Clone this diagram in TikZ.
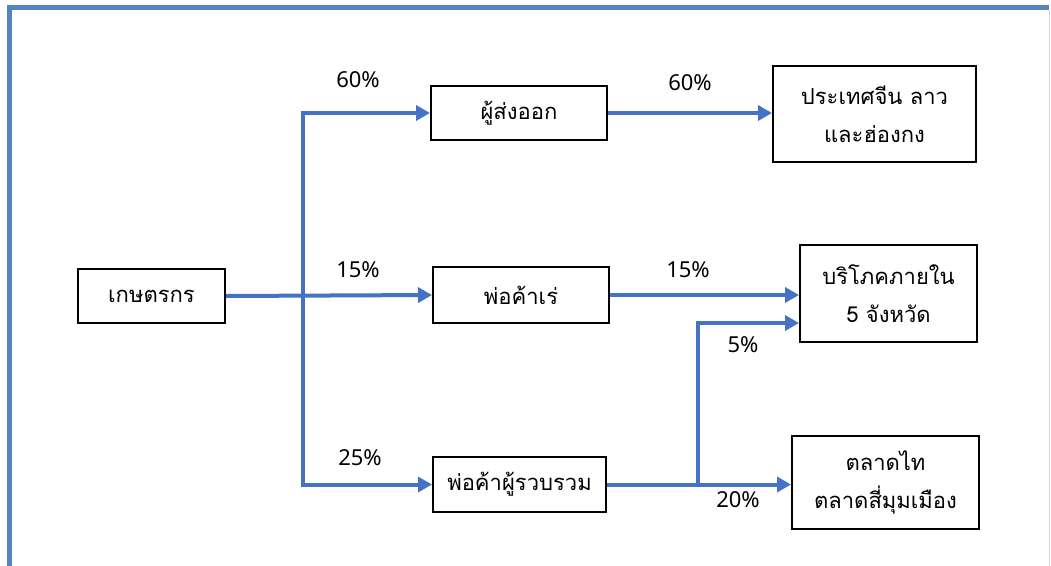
\documentclass[tikz,border=0pt]{standalone}
\usepackage{fontspec}
\setmainfont{Noto Sans}
\newfontfamily\thaifont[Script=Thai]{Loma}
\usetikzlibrary{arrows.meta,calc}
\definecolor{flowblue}{HTML}{4472C4}
\definecolor{frameblue}{HTML}{5584C2}
\definecolor{frameedge}{HTML}{C9D6E8}
\tikzset{
  box/.style={draw=black,line width=2pt,inner sep=0pt,align=center,
    font=\thaifont\fontsize{22}{38}\selectfont},
  flow/.style={draw=flowblue,line width=4pt,
    -{Triangle[length=14pt,width=15pt]}},
  trunk/.style={draw=flowblue,line width=4pt},
  pct/.style={font=\fontsize{22}{26}\selectfont,inner sep=0pt}
}
\begin{document}
\begin{tikzpicture}[x=1pt,y=-1pt]
\useasboundingbox (0,0) rectangle (1051,565);
% outer frame, open at the bottom
\draw[frameblue,line width=5pt] (9.5,568) -- (9.5,7.5) -- (1049,7.5);
\draw[frameedge,line width=1.5pt] (1049.5,10) -- (1049.5,568);

% boxes
\node[box,minimum width=147pt,minimum height=54pt] (farmer) at (151.5,296) {เกษตรกร};
\node[box,minimum width=176pt,minimum height=54pt] (exporter) at (519,113) {ผู้ส่งออก};
\node[box,minimum width=176pt,minimum height=56pt] (peddler) at (521,295) {พ่อค้าเร่};
\node[box,minimum width=173pt,minimum height=55pt] (collector) at (519.5,484.5) {พ่อค้าผู้รวบรวม};
\node[box,minimum width=203pt,minimum height=96pt] (china) at (874.5,114) {ประเทศจีน ลาว\\และฮ่องกง};
\node[box,minimum width=177pt,minimum height=97pt] (domestic) at (888.5,293.5) {บริโภคภายใน\\5 จังหวัด};
\node[box,minimum width=187pt,minimum height=93pt] (market) at (885.5,482.5) {ตลาดไท\\ตลาดสี่มุมเมือง};

% junction points
\coordinate (jt) at (303,113);
\coordinate (jb) at (303,484.5);
\coordinate (bb) at (698,484.5);
\coordinate (bt) at (698,323);

% connectors from the farmer
\draw[trunk] ($(jt)+(0,-2)$) -- ($(jb)+(0,2)$);
\draw[flow] (jt) -- (exporter.west);
\draw[flow] (farmer.east) -- (peddler.west);
\draw[flow] (jb) -- (collector.west);

% connectors to the markets
\draw[flow] (exporter.east) -- (exporter.east -| china.west);
\draw[flow] (peddler.east) -- (peddler.east -| domestic.west);
\draw[flow] (collector.east) -- (collector.east -| market.west);
\draw[trunk] (bb) -- ($(bt)+(0,-2)$);
\draw[flow] (bt) -- (bt -| domestic.west);

% shares
\node[pct] (p1) at (358,80) {60\%};
\node[pct] (p2) at (358,270) {15\%};
\node[pct] (p3) at (360,458) {25\%};
\node[pct] (p4) at (690,83) {60\%};
\node[pct] (p5) at (688,270) {15\%};
\node[pct] (p6) at (743,345) {5\%};
\node[pct] (p7) at (738,500) {20\%};
\end{tikzpicture}
\end{document}
